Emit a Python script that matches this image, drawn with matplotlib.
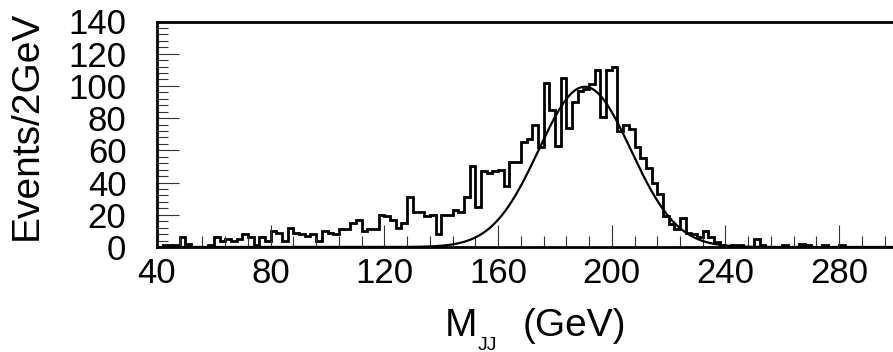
import numpy as np
import matplotlib
matplotlib.use("Agg")
import matplotlib.pyplot as plt
from matplotlib.ticker import MultipleLocator, FixedLocator

plt.rcParams['font.family'] = ['Liberation Sans', 'DejaVu Sans']

# ---- data ----
bin_low = 40.0
bin_width = 2.0
counts = [
    0, 1, 1, 1, 6, 2, 0, 0, 0, 1,          # 40-60
    6, 4, 5, 4, 5, 8, 6, 1, 6, 4,          # 60-80
    10, 9, 4, 12, 9, 8, 7, 8, 4, 10,       # 80-100
    9, 8, 11, 11, 15, 17, 10, 11, 11, 20,  # 100-120
    19, 17, 12, 15, 31, 22, 22, 19, 20, 8, # 120-140
    20, 20, 23, 22, 31, 50, 25, 47, 46, 47,  # 140-160
    48, 38, 53, 53, 65, 67, 76, 62, 102, 85, # 160-180
    63, 105, 74, 90, 97, 98, 101, 110, 81, 110,  # 180-200
    112, 72, 76, 73, 62, 55, 49, 40, 33, 19,     # 200-220
    14, 11, 18, 9, 8, 6, 10, 6, 3, 1,            # 220-240
    0, 1, 1, 0, 0, 5, 1, 0, 0, 0,                # 240-260
    1, 0, 0, 2, 1, 0, 0, 1, 0, 0,                # 260-280
    1, 0, 0, 0, 0, 0, 0, 0, 0, 0,                # 280-300
]
# Gaussian fit parameters
fit_amp = 99.5
fit_mean = 190.5
fit_sigma = 16.2

x_ticks = [40, 80, 120, 160, 200, 240, 280]
y_ticks = [0, 20, 40, 60, 80, 100, 120, 140]

# ---- figure ----
W, H = 893, 352
fig = plt.figure(figsize=(W / 100, H / 100), dpi=100)
left_px, right_px, top_px, bot_px = 157, 896, 21.5, 247
ax = fig.add_axes([left_px / W, 1 - bot_px / H,
                   (right_px - left_px) / W, (bot_px - top_px) / H])

edges = bin_low + bin_width * np.arange(len(counts) + 1)
ax.stairs(counts, edges, color='black', linewidth=2.0, baseline=None)

xf = np.linspace(40, 300, 1000)
yf = fit_amp * np.exp(-0.5 * ((xf - fit_mean) / fit_sigma) ** 2)
ax.plot(xf, yf, color='black', linewidth=1.6)

ax.set_xlim(40, 300)
ax.set_ylim(0, 140)

ax.xaxis.set_major_locator(FixedLocator(x_ticks))
ax.xaxis.set_minor_locator(MultipleLocator(8))
ax.yaxis.set_major_locator(FixedLocator(y_ticks))
ax.yaxis.set_minor_locator(MultipleLocator(4))
ax.set_xticklabels([str(t) for t in x_ticks])
ax.set_yticklabels([str(t) for t in y_ticks])

ax.tick_params(which='both', direction='in', top=False, right=False,
               color='#333333', width=0.8, labelsize=25)
ax.tick_params(axis='x', which='major', length=16, pad=7)
ax.tick_params(axis='x', which='minor', length=8)
ax.tick_params(axis='y', which='major', length=16, pad=22)
ax.tick_params(axis='y', which='minor', length=8)

for s in ['left', 'bottom', 'top']:
    ax.spines[s].set_linewidth(2.0)
ax.spines['right'].set_visible(False)

# y label
fig.text(27 / W, 1 - 125 / H, 'Events/2GeV', rotation=90,
         ha='center', va='center', fontsize=28)
# x label with deep subscript
fig.text(445 / W, 15.5 / H, 'M', ha='left', va='baseline', fontsize=28)
fig.text(478 / W, 2.5 / H, 'JJ', ha='left', va='baseline', fontsize=14)
fig.text(523 / W, 15.5 / H, '(GeV)', ha='left', va='baseline', fontsize=28)

fig.savefig('out.png', dpi=100)
